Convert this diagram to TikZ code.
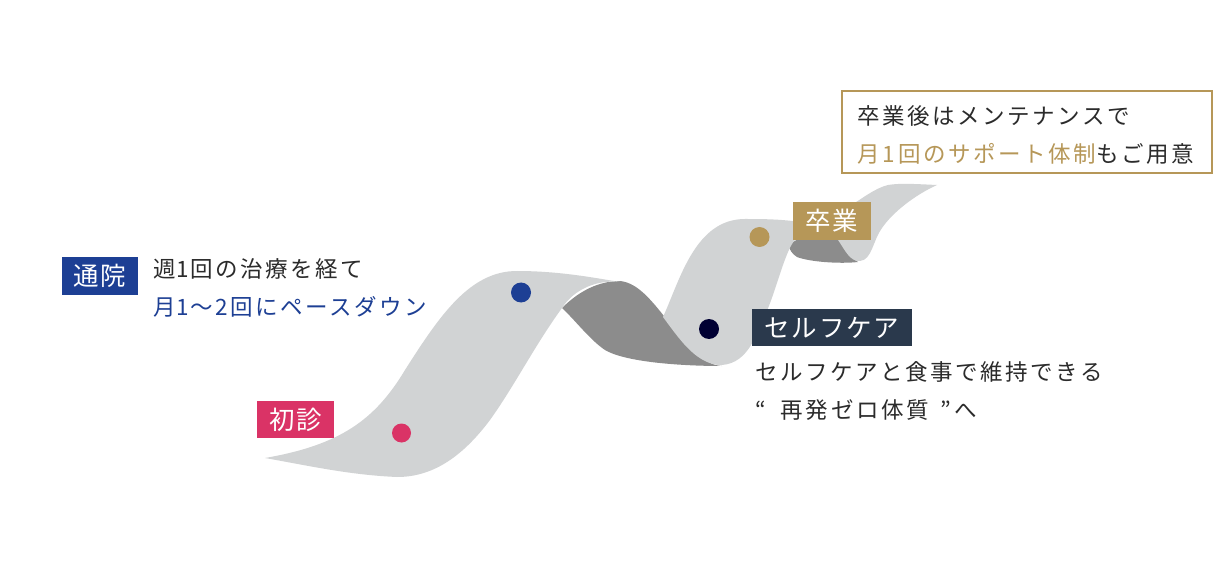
\documentclass[tikz,border=0pt]{standalone}
\usepackage{fontspec}
\setmainfont{Noto Sans CJK JP}
\newfontfamily\jpbody[LetterSpace=11.5]{Noto Sans CJK JP}
\newfontfamily\jptag[LetterSpace=7]{Noto Sans CJK JP}
\definecolor{ribbonlight}{HTML}{D1D3D4}
\definecolor{ribbondark}{HTML}{8C8C8C}
\definecolor{rosetag}{HTML}{DA3366}
\definecolor{bluetag}{HTML}{1D3F94}
\definecolor{goldtag}{HTML}{B69758}
\definecolor{slatetag}{HTML}{2A394C}
\definecolor{navydot}{HTML}{000033}
\definecolor{inktext}{HTML}{2B2B2B}
\newcommand{\digitone}{\hspace{1pt}1\hspace{1pt}}
\tikzset{
  lightband/.style={fill=ribbonlight,draw=none},
  darkband/.style={fill=ribbondark,draw=none},
  bodytext/.style={anchor=base west,inner sep=0pt,font=\jpbody\fontsize{22.5}{24}\selectfont,text=inktext},
  tagbox/.style={minimum height=37.5pt,inner sep=0pt,text=white,font=\jptag\fontsize{25.5}{28}\selectfont},
  dot/.style={circle,inner sep=0pt,minimum size=20pt}
}
\begin{document}
\begin{tikzpicture}[x=1pt,y=-1pt]
\useasboundingbox (0,0) rectangle (1232,580);
\fill[white] (0,0) rectangle (1232,580);

% twisted undersides of the ribbon
\fill[darkband] (562,308) .. controls (580,290) and (600,281) .. (620,281)
  .. controls (640,283) and (655,305) .. (675,330)
  .. controls (690,350) and (705,365) .. (722,366)
  .. controls (680,366) and (625,362) .. (605,350)
  .. controls (590,340) and (575,320) .. (562,308) -- cycle;
\fill[darkband] (788,245) -- (810,232) -- (840,240)
  .. controls (846,250) and (851,258) .. (858,262)
  .. controls (840,264) and (810,262) .. (797,257)
  .. controls (792,254) and (790,250) .. (788,245) -- cycle;

% first rising section
\fill[lightband] (265,458) .. controls (340,445) and (375,420) .. (405,370)
  .. controls (440,315) and (470,271) .. (517,271)
  .. controls (560,271) and (595,278) .. (620,282)
  .. controls (590,279) and (570,295) .. (562,308)
  .. controls (535,345) and (515,385) .. (490,420)
  .. controls (460,460) and (430,477) .. (397,477)
  .. controls (350,475) and (310,466) .. (265,458) -- cycle;
% second rising section
\fill[lightband] (663,317) .. controls (680,280) and (695,219) .. (745,219)
  .. controls (760,219) and (780,219) .. (800,222)
  -- (810,232) -- (795,240)
  .. controls (785,250) and (775,295) .. (765,315)
  .. controls (755,340) and (745,366) .. (718,365)
  .. controls (695,362) and (680,340) .. (663,317) -- cycle;
% final section running off towards the caption
\fill[lightband] (838,240) .. controls (845,250) and (850,262) .. (860,261)
  .. controls (872,260) and (873,240) .. (882,228)
  .. controls (893,212) and (915,195) .. (937,185)
  .. controls (915,184) and (900,183) .. (888,185)
  .. controls (875,188) and (860,200) .. (850,206)
  -- (835,225) -- cycle;

% stage markers on the ribbon
\node[dot,fill=rosetag,minimum size=19pt] (dotfirst) at (401.5,433) {};
\node[dot,fill=bluetag] (dotvisit) at (521,292.5) {};
\node[dot,fill=navydot] (dotcare) at (709,329) {};
\node[dot,fill=goldtag] (dotgrad) at (759.5,237) {};

% stage tags
\node[tagbox,fill=rosetag,minimum width=77pt] (tagfirst) at (295.5,419.5) {初診};
\node[tagbox,fill=bluetag,minimum width=76pt] (tagvisit) at (100,276) {通院};
\node[tagbox,fill=goldtag,minimum width=78pt] (taggrad) at (832,221) {卒業};
\node[tagbox,fill=slatetag,minimum width=160pt] (tagcare) at (832,327.5) {セルフケア};

% caption box
\node[draw=goldtag,line width=1.6pt,minimum width=370pt,minimum height=82pt,inner sep=0pt,fill=white] (capbox) at (1027,132) {};
\node[bodytext] (capa) at (857,125) {卒業後はメンテナンスで};
\node[bodytext] (capb) at (857,162.5) {\textcolor{goldtag}{月\hspace{2pt}\digitone\hspace{2pt}回のサポート体制}もご用意};

% descriptions beside the stages
\node[bodytext] (visita) at (153,277.5) {週\digitone 回の治療を経て};
\node[bodytext,text=bluetag] (visitb) at (153,315) {月\digitone ～2回にペースダウン};
\node[bodytext] (carea) at (755,380.5) {セルフケアと食事で維持できる};
\node[bodytext] (careb) at (755,418) {“\hspace{15pt}再発ゼロ体質\hspace{12pt}”へ};
\end{tikzpicture}
\end{document}
